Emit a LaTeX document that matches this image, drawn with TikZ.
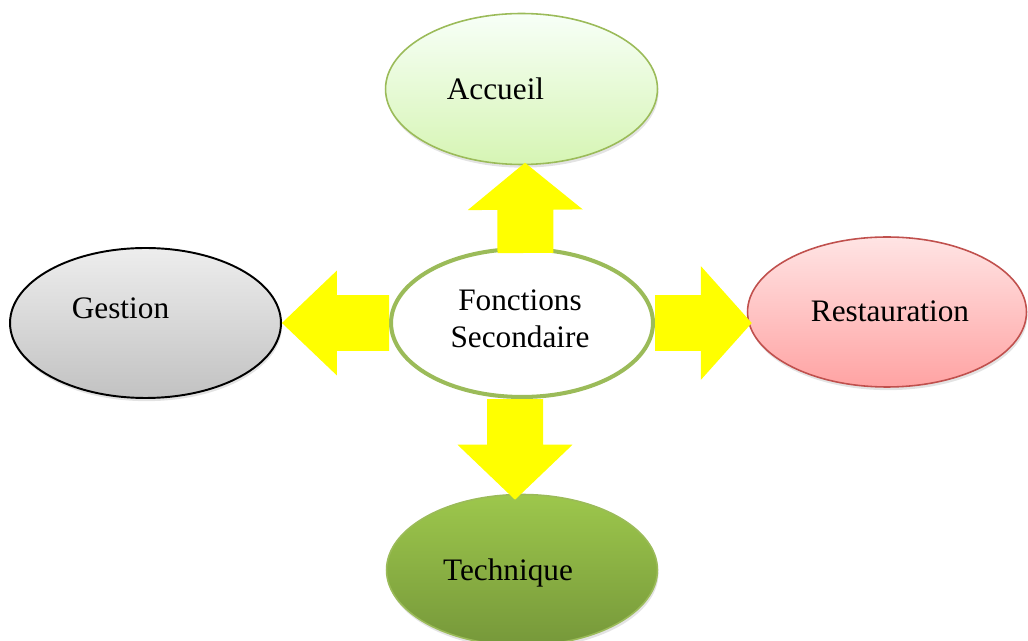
\documentclass[tikz,border=0pt]{standalone}
\usepackage{fontspec}
\setmainfont{Liberation Serif}
\usetikzlibrary{shapes.geometric,calc,shadows}

\definecolor{vertBord}{HTML}{9BBB59}
\definecolor{rougeBord}{HTML}{C0504D}
\definecolor{jaune}{HTML}{FFFF00}

\tikzset{
  bulle/.style={ellipse, draw, line width=0.9pt, inner sep=0pt, minimum width=5.42cm, minimum height=3.0cm,
    drop shadow={opacity=0.22, shadow xshift=0.6pt, shadow yshift=-1.8pt}},
  every label/.style={font=\fontsize{17.8}{21}\selectfont},
  fleche/.style={fill=jaune, draw=none},
}

% grosse fleche jaune: #1 depart, #2 pointe, #3 longueur de la pointe, #4 demi-largeur de la pointe
\newcommand{\flecheJaune}[4]{%
  \path ($(#2)!#3!(#1)$) coordinate (fbase);
  \fill[fleche] ($(#1)!0.56cm!90:(#2)$) -- ($(fbase)!0.56cm!-90:(#1)$) -- ($(fbase)!#4!-90:(#1)$)
    -- (#2) -- ($(fbase)!#4!90:(#1)$) -- ($(fbase)!0.56cm!90:(#1)$) -- ($(#1)!0.56cm!-90:(#2)$) -- cycle;
}

\begin{document}
\begin{tikzpicture}[x=0.02cm, y=-0.02cm]
  \useasboundingbox (0,0) rectangle (1028,641);

  % les bulles
  \node[bulle, draw=vertBord, top color=green!3!white, bottom color={rgb,255:red,214;green,245;blue,180},
        minimum width=5.44cm, minimum height=3.02cm,
        label={[shift={(-26,0)}]center:Accueil}] (acc) at (521.5,89) {};
  \node[bulle, draw=black, line width=1.1pt, top color=black!7, bottom color=black!24,
        label={[shift={(-25,-15)}]center:Gestion}] (ges) at (145.5,323) {};
  \node[bulle, draw=rougeBord, top color={rgb,255:red,255;green,228;blue,228}, bottom color={rgb,255:red,255;green,163;blue,163},
        minimum width=5.58cm, label={[shift={(3,-1)}]center:Restauration}] (res) at (887,312) {};
  \node[bulle, draw=vertBord, top color={rgb,255:red,157;green,199;blue,76}, bottom color={rgb,255:red,118;green,152;blue,58},
        minimum height=3.02cm, label={[shift={(-14,3)}]center:Technique}] (tec) at (522,570) {};

  % la fonction au centre
  \node[ellipse, draw=vertBord, line width=2.3pt, fill=white, inner sep=0pt,
        minimum width=5.24cm, minimum height=2.96cm,
        label={[shift={(-2,-4)}, align=center]center:Fonctions\\Secondaire}] (fs) at (522,323) {};

  % les fleches
  \coordinate (hautD) at ([xshift=0.07cm, yshift=-0.12cm]fs.north);
  \coordinate (hautP) at ([xshift=0.07cm, yshift=0.05cm]acc.south);
  \coordinate (droiteP) at ([xshift=0.1cm]res.west |- fs.east);
  \coordinate (basD) at ([xshift=-0.14cm]fs.south);
  \coordinate (basP) at ([xshift=-0.14cm, yshift=-0.12cm]tec.north);

  \flecheJaune{hautD}{hautP}{0.94cm}{1.15cm}
  \flecheJaune{fs.west}{ges.east}{1.1cm}{1.05cm}
  \flecheJaune{fs.east}{droiteP}{1.02cm}{1.14cm}
  \flecheJaune{basD}{basP}{1.1cm}{1.15cm}
\end{tikzpicture}
\end{document}
